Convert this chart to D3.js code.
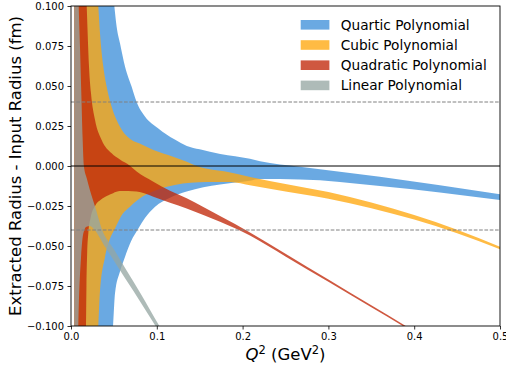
<!DOCTYPE html>
<html>
<head>
<meta charset="utf-8">
<script src="https://cdn.jsdelivr.net/npm/d3@7"></script>
<style>
  body { margin: 0; background: #fff; }
  svg { display: block; }
  text { font-family: "DejaVu Sans", sans-serif; fill: #000; }
</style>
</head>
<body>
<svg id="chart" width="506" height="369"></svg>
<script>
// Band edges (extracted minus input radius, fm) against the fit range upper limit Q^2 (GeV^2)
const quarticUpperQ = [0.004, 0.0505, 0.0532, 0.0571, 0.063, 0.0707, 0.0765, 0.0862, 0.1018, 0.121, 0.135, 0.150, 0.174, 0.2086, 0.2203, 0.2669, 0.36, 0.5];
const quarticUpperV = [0.5, 0.1, 0.087, 0.0767, 0.062, 0.0496, 0.040, 0.031, 0.0235, 0.0165, 0.0125, 0.0104, 0.0075, 0.0045, 0.0030, -0.0004, -0.0067, -0.0177];
const quarticLowerQ = [0.004, 0.049, 0.0513, 0.0571, 0.063, 0.070, 0.0785, 0.0862, 0.098, 0.1154, 0.1348, 0.1542, 0.1737, 0.2086, 0.2203, 0.2669, 0.36, 0.5];
const quarticLowerV = [-0.5, -0.1, -0.0796, -0.066, -0.0567, -0.047, -0.039, -0.0325, -0.0254, -0.0198, -0.016, -0.0133, -0.0115, -0.0092, -0.0082, -0.0084, -0.0125, -0.0213];

const cubicUpperQ = [0.004, 0.0318, 0.0338, 0.0377, 0.0416, 0.0474, 0.0571, 0.0707, 0.080, 0.096, 0.119, 0.135, 0.1465, 0.183, 0.21, 0.25, 0.30, 0.35, 0.40, 0.45, 0.5];
const cubicUpperV = [0.4, 0.1, 0.083, 0.062, 0.0496, 0.037, 0.0246, 0.0163, 0.0140, 0.0100, 0.0058, 0.0027, 0.0, -0.0038, -0.0070, -0.0112, -0.0163, -0.0228, -0.0307, -0.0399, -0.0504];
const cubicLowerQ = [0.004, 0.0318, 0.0338, 0.0396, 0.045, 0.0513, 0.060, 0.0688, 0.0843, 0.100, 0.121, 0.158, 0.185, 0.21, 0.25, 0.30, 0.35, 0.40, 0.45, 0.5];
const cubicLowerV = [-0.4, -0.1, -0.078, -0.057, -0.046, -0.039, -0.030, -0.0254, -0.0188, -0.0150, -0.0118, -0.0100, -0.0100, -0.0122, -0.0160, -0.0205, -0.0264, -0.0335, -0.0421, -0.0520];

const quadraticUpperQ = [0.004, 0.0183, 0.0194, 0.021, 0.0233, 0.028, 0.0357, 0.0474, 0.057, 0.069, 0.0765, 0.096, 0.1154, 0.1348, 0.1737, 0.2086, 0.25, 0.30, 0.35, 0.42];
const quadraticUpperV = [0.3, 0.1, 0.083, 0.062, 0.0454, 0.0287, 0.0163, 0.0079, 0.0040, 0.0, -0.0035, -0.0098, -0.0154, -0.0202, -0.0313, -0.0415, -0.0548, -0.0710, -0.0871, -0.1096];
const quadraticLowerQ = [0.004, 0.0175, 0.0180, 0.0188, 0.0202, 0.023, 0.028, 0.035, 0.043, 0.049, 0.057, 0.0765, 0.096, 0.1154, 0.1348, 0.1737, 0.2086, 0.25, 0.30, 0.35, 0.42];
const quadraticLowerV = [-0.3, -0.1, -0.075, -0.055, -0.042, -0.032, -0.025, -0.021, -0.0185, -0.017, -0.0157, -0.016, -0.0192, -0.0229, -0.0265, -0.0349, -0.0435, -0.0566, -0.0724, -0.0883, -0.1106];

const linearUpperQ = [0.004, 0.009, 0.0105, 0.012, 0.0135, 0.0150, 0.0185, 0.022, 0.029, 0.0357, 0.050, 0.065, 0.0804, 0.103, 0.115];
const linearUpperV = [0.3, 0.1, 0.074, 0.046, 0.018, 0.0, -0.008, -0.015, -0.027, -0.039, -0.052, -0.0655, -0.079, -0.100, -0.111];
const linearLowerQ = [0.004, 0.0085, 0.0117, 0.0144, 0.018, 0.022, 0.026, 0.040, 0.055, 0.0726, 0.098, 0.115];
const linearLowerV = [-0.3, -0.1, -0.057, -0.042, -0.038, -0.0375, -0.039, -0.0508, -0.0634, -0.0780, -0.0995, -0.114];

const seriesNames = ["Quartic Polynomial", "Cubic Polynomial", "Quadratic Polynomial", "Linear Polynomial"];
const seriesColors = ["#3d8fd9", "#ffa70c", "#c12607", "#96a7a3"];
const xTicks = [0.0, 0.1, 0.2, 0.3, 0.4, 0.5];
const yTicks = [-0.100, -0.075, -0.050, -0.025, 0.000, 0.025, 0.050, 0.075, 0.100];
const guideLevels = [0.04, -0.04];

const bands = [
  { uq: quarticUpperQ, uv: quarticUpperV, lq: quarticLowerQ, lv: quarticLowerV },
  { uq: cubicUpperQ, uv: cubicUpperV, lq: cubicLowerQ, lv: cubicLowerV },
  { uq: quadraticUpperQ, uv: quadraticUpperV, lq: quadraticLowerQ, lv: quadraticLowerV },
  { uq: linearUpperQ, uv: linearUpperV, lq: linearLowerQ, lv: linearLowerV }
];
const bandOpacity = 0.77;

const W = 506, H = 369;
const m = { left: 71, right: 6, top: 6, bottom: 43 };
const x = d3.scaleLinear().domain([0, 0.5]).range([m.left, W - m.right]);
const y = d3.scaleLinear().domain([-0.1, 0.1]).range([H - m.bottom, m.top]);

const svg = d3.select("#chart");

svg.append("defs").append("clipPath").attr("id", "plot-clip")
  .append("rect")
  .attr("x", x(0)).attr("y", y(0.1))
  .attr("width", x(0.5) - x(0)).attr("height", y(-0.1) - y(0.1));

const plot = svg.append("g").attr("clip-path", "url(#plot-clip)");

const edge = d3.line().x(d => x(d[0])).y(d => y(d[1])).curve(d3.curveMonotoneX);

// Each band: upper edge left to right, then lower edge right to left
bands.forEach((b, i) => {
  const upper = b.uq.map((q, k) => [q, b.uv[k]]);
  const lower = b.lq.map((q, k) => [q, b.lv[k]]).reverse();
  const d = edge(upper) + "L" + edge(lower).slice(1) + "Z";
  plot.append("path")
    .attr("d", d)
    .attr("fill", seriesColors[i])
    .attr("fill-opacity", bandOpacity)
    .attr("stroke", "none");
});

// Dashed guides and zero line
plot.selectAll("line.guide").data(guideLevels).join("line")
  .attr("class", "guide")
  .attr("x1", x(0)).attr("x2", x(0.5))
  .attr("y1", d => y(d)).attr("y2", d => y(d))
  .attr("stroke", "#808080").attr("stroke-width", 1)
  .attr("stroke-dasharray", "3.7,1.6");

plot.append("line")
  .attr("x1", x(0)).attr("x2", x(0.5))
  .attr("y1", y(0)).attr("y2", y(0))
  .attr("stroke", "#000").attr("stroke-width", 1);

// Axes
const xAxis = svg.append("g")
  .attr("transform", `translate(0,${y(-0.1)})`)
  .call(d3.axisBottom(x).tickValues(xTicks).tickFormat(d3.format(".1f")).tickSize(3.5).tickPadding(3.5));
const yAxis = svg.append("g")
  .attr("transform", `translate(${x(0)},0)`)
  .call(d3.axisLeft(y).tickValues(yTicks).tickFormat(d3.format(".3f")).tickSize(3.5).tickPadding(3.5));

[xAxis, yAxis].forEach(g => {
  g.select(".domain").remove();
  g.attr("font-family", "DejaVu Sans, sans-serif").attr("font-size", 10);
  g.selectAll(".tick line").attr("stroke", "#000").attr("stroke-width", 0.8);
  g.selectAll(".tick text").attr("fill", "#000");
});

// Frame
svg.append("rect")
  .attr("x", x(0)).attr("y", y(0.1))
  .attr("width", x(0.5) - x(0)).attr("height", y(-0.1) - y(0.1))
  .attr("fill", "none").attr("stroke", "#000").attr("stroke-width", 0.9);

// Axis titles
const xt = svg.append("text")
  .attr("x", (x(0) + x(0.5)) / 2).attr("y", 360)
  .attr("text-anchor", "middle").attr("font-size", 16.5);
xt.append("tspan").attr("font-style", "italic").text("Q");
xt.append("tspan").attr("font-size", 11.5).attr("dy", -6.5).text("2");
xt.append("tspan").attr("dy", 6.5).text(" (GeV");
xt.append("tspan").attr("font-size", 11.5).attr("dy", -6.5).text("2");
xt.append("tspan").attr("dy", 6.5).text(")");

svg.append("text")
  .attr("transform", `translate(21,${(y(0.1) + y(-0.1)) / 2}) rotate(-90)`)
  .attr("text-anchor", "middle").attr("font-size", 16.5)
  .text("Extracted Radius - Input Radius (fm)");

// Legend
const legend = svg.append("g").attr("transform", "translate(300.7,24.8)");
seriesNames.forEach((name, i) => {
  const row = legend.append("g").attr("transform", `translate(0,${i * 20.2})`);
  row.append("rect")
    .attr("x", 0).attr("y", -4.8).attr("width", 28.7).attr("height", 9.6)
    .attr("fill", seriesColors[i]).attr("fill-opacity", bandOpacity);
  row.append("text")
    .attr("x", 40).attr("y", 4.8)
    .attr("font-size", 13.7)
    .text(name);
});
</script>
</body>
</html>
